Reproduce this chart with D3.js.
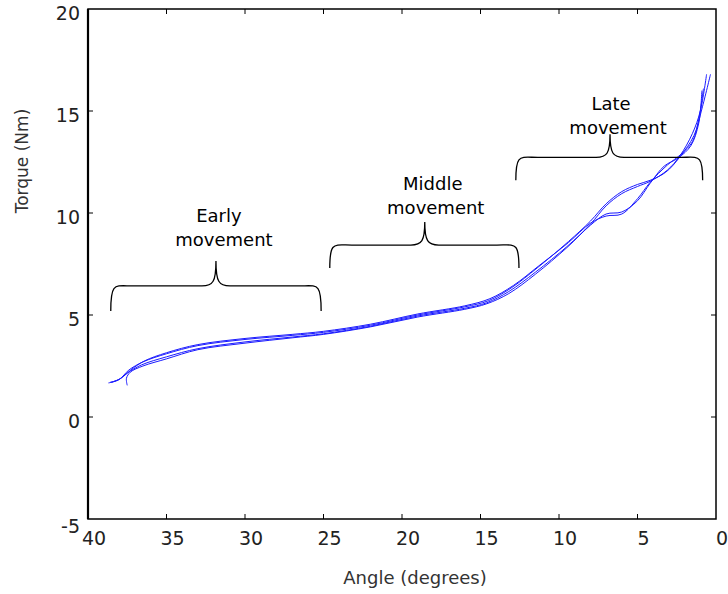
<!DOCTYPE html>
<html>
<head>
<meta charset="utf-8">
<script src="https://cdn.jsdelivr.net/npm/d3@7"></script>
<style>
  body { margin: 0; background: #fff; }
  text { font-family: "DejaVu Sans", sans-serif; }
</style>
</head>
<body>
<div id="chart"></div>
<script>
// four repeated trials: [angle (deg), torque (Nm)]
const trial1 = [[38.7,1.67],[38.1,1.8],[37.5,2.15],[36.6,2.55],[35,2.95],[33,3.35],[30,3.68],[27,3.92],[25,4.08],[22,4.45],[19,4.95],[16,5.33],[14.6,5.6],[13.2,6.15],[11.5,7.1],[9.5,8.35],[8,9.45],[7,10.35],[6,10.95],[5,11.3],[4.2,11.55],[3.1,12.1],[2.3,12.8],[1.5,13.9],[1.0,15.0],[0.6,16.8]];
const trial2 = [[38.6,1.7],[38.0,1.85],[37.4,2.3],[36.5,2.7],[35,3.1],[33,3.5],[30,3.8],[27,4.0],[25,4.15],[22,4.5],[19,5.0],[16,5.4],[14.5,5.7],[13.0,6.35],[11.4,7.3],[9.4,8.6],[8,9.6],[7,10.45],[6,11.05],[5,11.4],[4.2,11.6],[3.2,12.0],[2.3,12.75],[1.4,13.8],[0.9,15.1],[0.35,16.8]];
const trial3 = [[37.5,1.55],[37.55,1.9],[37.3,2.2],[36.5,2.5],[35,2.85],[33,3.3],[30,3.62],[27,3.88],[25,4.05],[22,4.42],[19,4.9],[16,5.28],[14.6,5.55],[13.2,6.05],[11.5,7.0],[9.5,8.3],[8,9.4],[7,9.95],[6,10.05],[5,10.6],[4.2,11.45],[3.3,12.3],[2.4,12.7],[1.6,13.3],[1.1,14.4],[0.9,16.0]];
const trial4 = [[38.5,1.7],[37.9,1.9],[37.2,2.35],[36.4,2.75],[35,3.15],[33,3.55],[30,3.85],[27,4.05],[25,4.2],[22,4.55],[19,5.05],[16,5.45],[14.4,5.8],[12.9,6.45],[11.3,7.4],[9.4,8.55],[8,9.5],[7,9.85],[6,9.95],[5,10.7],[4.2,11.5],[3.1,12.35],[2.2,12.9],[1.5,13.5],[1.1,14.6],[0.8,16.1]];
const trials = [trial1, trial2, trial3, trial4];

const xTicks = [40, 35, 30, 25, 20, 15, 10, 5, 0];
const yTicks = [-5, 0, 5, 10, 15, 20];

// phase annotations: brace span (angle), brace base (torque), label lines
const phaseNames = [["Early", "movement"], ["Middle", "movement"], ["Late", "movement"]];
const phaseFrom = [38.55, 24.6, 12.75];
const phaseTo = [25.15, 12.55, 0.85];
const phaseTip = [31.85, 18.55, 6.75];
const phaseBase = [5.2, 7.3, 11.6];

const width = 728, height = 594;
const margin = {left: 88, right: 12, top: 9, bottom: 75};

const svg = d3.select("#chart").append("svg")
    .attr("width", width)
    .attr("height", height);

const x = d3.scaleLinear().domain([40, 0]).range([margin.left, width - margin.right]);
const y = d3.scaleLinear().domain([-5, 20]).range([height - margin.bottom, margin.top]);

// frame
svg.append("rect")
    .attr("x", x(40)).attr("y", y(20))
    .attr("width", x(0) - x(40)).attr("height", y(-5) - y(20))
    .attr("fill", "none").attr("stroke", "#000").attr("stroke-width", 1.5);
svg.append("line")
    .attr("x1", x(40)).attr("x2", x(40)).attr("y1", y(20)).attr("y2", y(-5))
    .attr("stroke", "#000").attr("stroke-width", 2.2);

// ticks, inward, on all four sides
const tk = 5;
svg.selectAll(".xt").data(xTicks.slice(1, -1)).enter().append("path")
    .attr("d", d => `M${x(d)},${y(-5)}v${-tk}M${x(d)},${y(20)}v${tk}`)
    .attr("stroke", "#000").attr("stroke-width", 1);
svg.selectAll(".yt").data(yTicks.slice(1, -1)).enter().append("path")
    .attr("d", d => `M${x(40)},${y(d)}h${tk}M${x(0)},${y(d)}h${-tk}`)
    .attr("stroke", "#000").attr("stroke-width", 1);

svg.selectAll(".xl").data(xTicks).enter().append("text")
    .attr("x", d => x(d) + 6)
    .attr("y", y(-5) + 26)
    .attr("text-anchor", "middle")
    .attr("font-size", 19)
    .attr("fill", "#222")
    .text(d => d);
svg.selectAll(".yl").data(yTicks).enter().append("text")
    .attr("x", x(40) - 8)
    .attr("y", d => y(d) + (d === -5 ? 14 : 11))
    .attr("text-anchor", "end")
    .attr("font-size", 19)
    .attr("fill", "#222")
    .text(d => d);

svg.append("text")
    .attr("x", 415).attr("y", 584)
    .attr("text-anchor", "middle")
    .attr("font-size", 18)
    .attr("fill", "#333")
    .text("Angle (degrees)");
svg.append("text")
    .attr("transform", "translate(28,161) rotate(-90)")
    .attr("text-anchor", "middle")
    .attr("font-size", 17)
    .attr("fill", "#333")
    .text("Torque (Nm)");

// curves
const line = d3.line()
    .x(d => x(d[0]))
    .y(d => y(d[1]))
    .curve(d3.curveCatmullRom.alpha(0.5));

svg.selectAll(".trial").data(trials).enter().append("path")
    .attr("d", line)
    .attr("fill", "none")
    .attr("stroke", "#1a1aff")
    .attr("stroke-width", 1);

// braces
const braceH = [50, 46, 46];
const labelShift = [[3, 8, -3], [8, 11, 8], [1, 8, 16]]; // dx line1, dx line2, dy
function brace(i) {
    const x1 = x(phaseFrom[i]), x2 = x(phaseTo[i]), xc = x(phaseTip[i]);
    const yb = y(phaseBase[i]), ym = yb - braceH[i] / 2, yt = yb - braceH[i];
    const r = 22, rc = 14;
    return `M${x1},${yb} C${x1},${ym - 4} ${x1 + 4},${ym} ${x1 + r},${ym}` +
        ` L${xc - rc},${ym} C${xc - 3},${ym} ${xc},${ym - 4} ${xc},${yt}` +
        ` C${xc},${ym - 4} ${xc + 3},${ym} ${xc + rc},${ym}` +
        ` L${x2 - r},${ym} C${x2 - 4},${ym} ${x2},${ym - 4} ${x2},${yb}`;
}
phaseNames.forEach((names, i) => {
    svg.append("path")
        .attr("d", brace(i))
        .attr("fill", "none")
        .attr("stroke", "#000")
        .attr("stroke-width", 1.3);
    const xc = x(phaseTip[i]), yt = y(phaseBase[i]) - 50 + labelShift[i][2];
    const t = svg.append("text")
        .attr("text-anchor", "middle")
        .attr("font-size", 18)
        .attr("fill", "#000");
    t.append("tspan").attr("x", xc + labelShift[i][0]).attr("y", yt - 36).text(names[0]);
    t.append("tspan").attr("x", xc + labelShift[i][1]).attr("y", yt - 12).text(names[1]);
});
</script>
</body>
</html>
